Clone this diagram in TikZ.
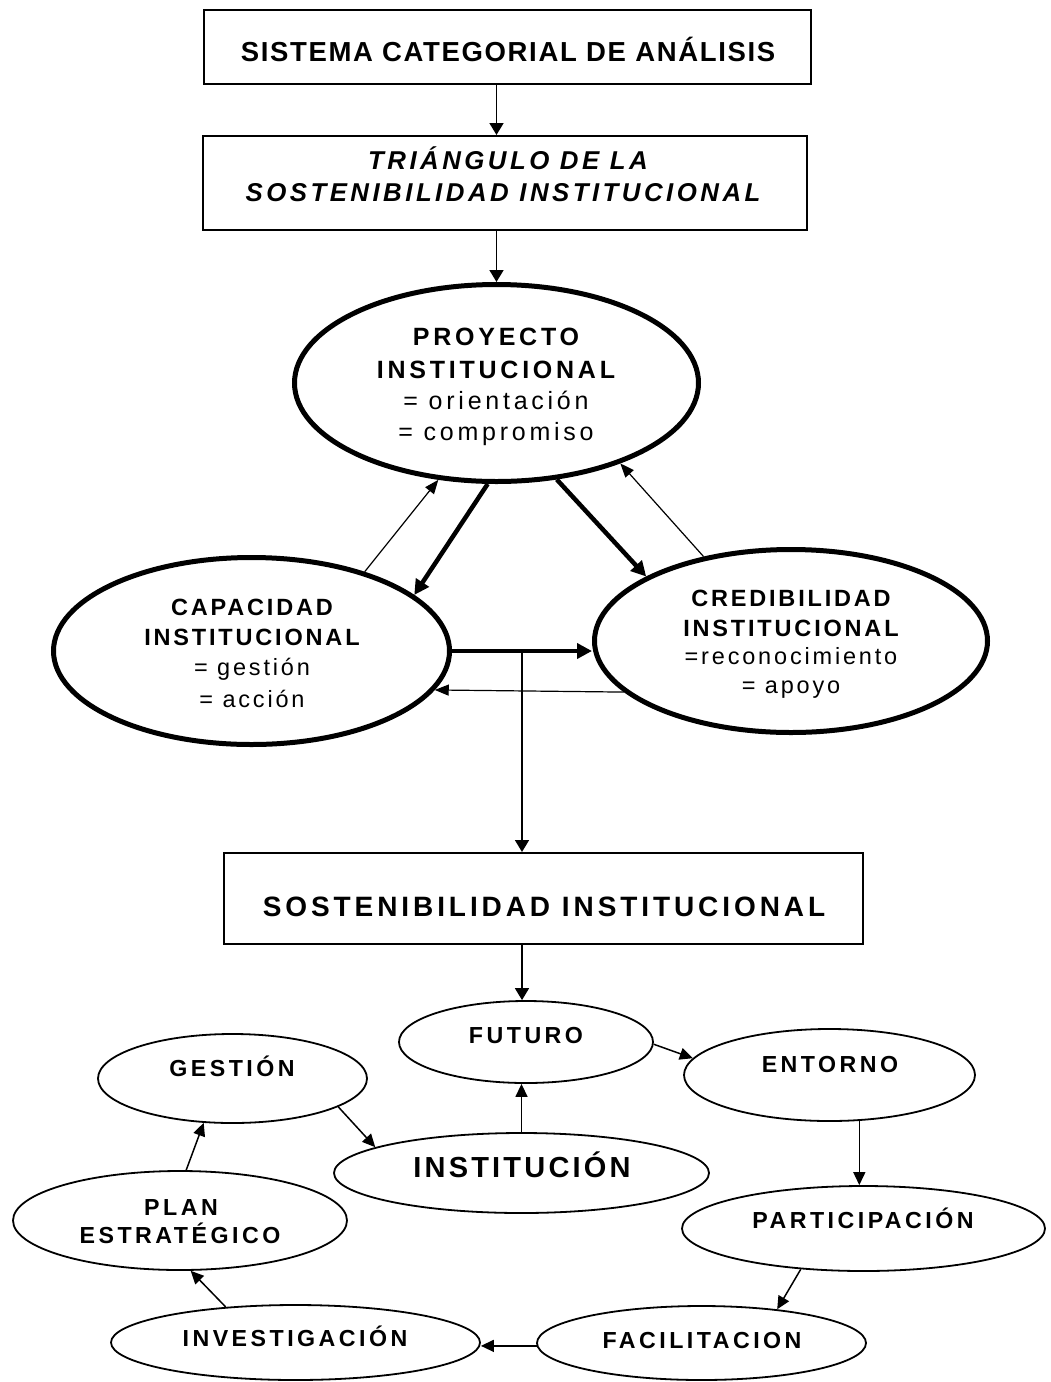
\documentclass[tikz,border=0pt]{standalone}
\usepackage{fontspec}
\setmainfont{Liberation Sans}
\usetikzlibrary{arrows.meta,shapes.geometric}
% size in pt, letter spacing
\newcommand\tracked[2]{\fontsize{#1}{#1}\selectfont\addfontfeature{LetterSpace=#2}}

\begin{document}
\begin{tikzpicture}[x=1pt,y=-1pt,
  framebox/.style={draw,rectangle,line width=2pt,inner sep=0pt},
  bigell/.style={draw,ellipse,line width=5pt,inner sep=0pt},
  ringell/.style={draw,ellipse,line width=1.8pt,inner sep=0pt},
  txt/.style={anchor=base,inner sep=0pt},
  boxtitle/.style={txt,font=\bfseries\tracked{27.5}{6}},
  trititle/.style={txt,font=\bfseries\itshape\tracked{25.8}{13.5}},
  sustitle/.style={txt,font=\bfseries\tracked{28}{14}},
  ptitle/.style={txt,font=\bfseries\tracked{25}{15}},
  pword/.style={txt,font=\tracked{25}{15}},
  ctitle/.style={txt,font=\bfseries\tracked{23.5}{12}},
  cword/.style={txt,font=\tracked{23.5}{12}},
  rtitle/.style={txt,font=\bfseries\tracked{23.2}{15}},
  rbig/.style={txt,font=\bfseries\tracked{29}{11}},
  arrbox/.style={line width=1.6pt,-{Triangle[length=12pt,width=14pt]}},
  arrheavy/.style={line width=4.5pt,-{Triangle[length=15pt,width=15pt]}},
  arrlight/.style={line width=1.2pt,-{Triangle[length=14pt,width=11pt]}},
  arrring/.style={line width=1.5pt,-{Triangle[length=13pt,width=12pt]}},
]
\useasboundingbox (0,0) rectangle (1050,1382);

% ---- upper boxes ----
\node[framebox,minimum width=607pt,minimum height=74pt] (b1) at (507.5,47) {};
\node[boxtitle] (t1) at (508,61.5) {SISTEMA CATEGORIAL DE ANÁLISIS};

\node[framebox,minimum width=604pt,minimum height=94pt] (b2) at (505,183) {};
\node[trititle] (t2a) at (508,169) {TRIÁNGULO DE LA};
\node[trititle] (t2b) at (503,201) {SOSTENIBILIDAD INSTITUCIONAL};

% ---- the triangle ----
\node[bigell,minimum width=404pt,minimum height=197pt] (proy) at (496.5,383) {};
\node[ptitle] (p1) at (496,345) {PROYECTO};
\node[ptitle] (p2) at (496,378.3) {INSTITUCIONAL};
\node[pword] (p3) at (496,409.3) {= orientación};
\node[pword] (p4) at (496,440.7) {= compromiso};

\node[bigell,minimum width=396pt,minimum height=187pt] (cap) at (251.5,651) {};
\node[ctitle] (c1) at (252,615) {CAPACIDAD};
\node[ctitle] (c2) at (252,645) {INSTITUCIONAL};
\node[cword] (c3) at (252,675.5) {= gestión};
\node[cword] (c4) at (252,707) {= acción};

\node[bigell,minimum width=393pt,minimum height=183pt] (cred) at (791,641) {};
\node[ctitle] (r1) at (791,606.7) {CREDIBILIDAD};
\node[ctitle] (r2) at (791,636) {INSTITUCIONAL};
\node[cword] (r3) at (791,664.5) {=reconocimiento};
\node[cword] (r4) at (791,693.5) {= apoyo};

% ---- sustainability box ----
\node[framebox,minimum width=639pt,minimum height=91pt] (b3) at (543.5,898.5) {};
\node[sustitle] (t3) at (544,916.7) {SOSTENIBILIDAD INSTITUCIONAL};

% ---- the ring ----
\node[ringell,minimum width=254pt,minimum height=82pt] (fut) at (526,1042) {};
\node[rtitle] (fut1) at (526,1043.3) {FUTURO};
\node[ringell,minimum width=269pt,minimum height=89pt] (gest) at (232.5,1078.5) {};
\node[rtitle] (gest1) at (232,1076.7) {GESTIÓN};
\node[ringell,minimum width=291pt,minimum height=92pt] (ent) at (829.5,1075) {};
\node[rtitle] (ent1) at (830,1072.7) {ENTORNO};
\node[ringell,minimum width=375pt,minimum height=80pt] (inst) at (521.5,1173) {};
\node[rbig] (inst1) at (522,1177.3) {INSTITUCIÓN};
\node[ringell,minimum width=334pt,minimum height=99pt] (plan) at (180,1220.5) {};
\node[rtitle] (plan1) at (181,1215) {PLAN};
\node[rtitle] (plan2) at (180,1243.3) {ESTRATÉGICO};
\node[ringell,minimum width=363pt,minimum height=85pt] (part) at (863.5,1228.5) {};
\node[rtitle] (part1) at (863,1228.3) {PARTICIPACIÓN};
\node[ringell,minimum width=369pt,minimum height=75pt] (inv) at (295.5,1342.5) {};
\node[rtitle] (inv1) at (295,1346.7) {INVESTIGACIÓN};
\node[ringell,minimum width=329pt,minimum height=74pt] (fac) at (701.5,1343) {};
\node[rtitle] (fac1) at (702,1348.3) {FACILITACION};

% ---- connectors: top chain ----
\draw[arrbox] (b1.south -| proy.north) -- (b2.north -| proy.north);
\draw[arrbox] (b2.south -| proy.north) -- (proy.north);

% ---- connectors: triangle ----
\draw[arrheavy] (proy.265.6) -- (cap.19.7);
\draw[arrheavy] (proy.302.7) -- (cred.156.9);
\draw[arrheavy] (cap.east) -- (cap.east -| cred.west);
\draw[arrlight] (cap.35.2) -- (proy.239);
\draw[arrlight] (cred.136.3) -- (proy.327.5);
\draw[arrlight] (cred.197.1) -- (cap.-12.8);

% ---- connectors: down to sustainability ----
\coordinate (split) at (522,651);
\draw[arrbox] (split) -- (split |- b3.north);
\draw[arrbox] (split |- b3.south) -- (split |- fut.north);

% ---- connectors: ring ----
\draw[arrring] (fut.-1.4) -- (ent.173.5);
\draw[arrring] (inst.north) -- (inst.north |- fut.south);
\draw[arrring] (gest.-15.5) -- (inst.170);
\draw[arrring] (ent.-57.9) -- (ent.-57.9 |- part.north);
\draw[arrring] (part.213.2) -- (fac.24.3);
\draw[arrring] (fac.181.8) -- (fac.181.8 -| inv.east);
\draw[arrring] (inv.153.3) -- (plan.-78.2);
\draw[arrring] (plan.83.2) -- (gest.237);
\end{tikzpicture}
\end{document}
